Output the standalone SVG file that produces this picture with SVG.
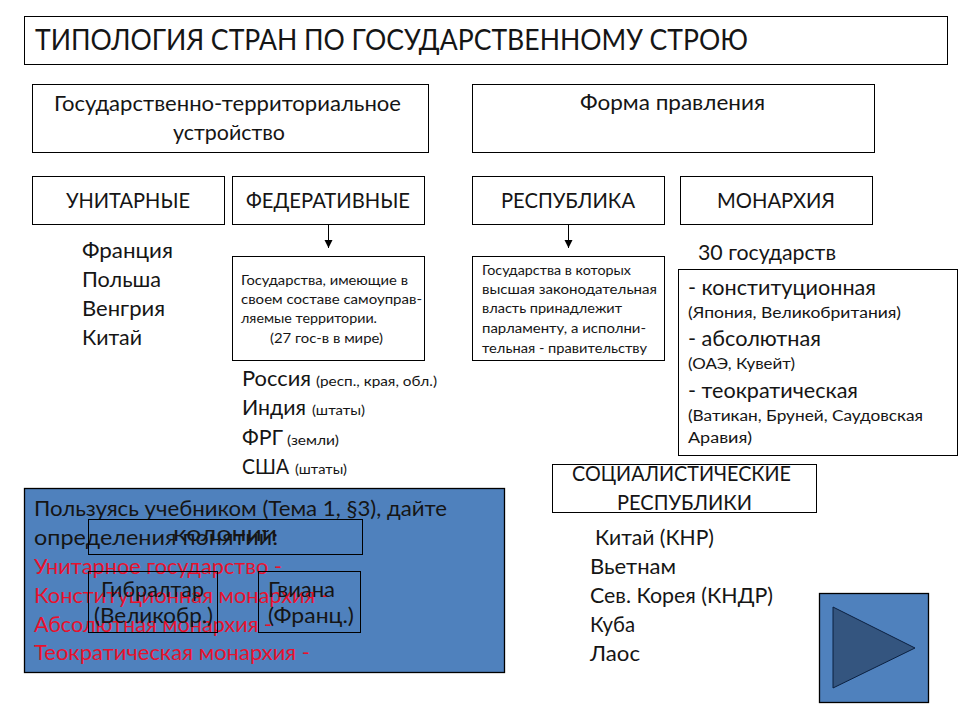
<svg xmlns="http://www.w3.org/2000/svg" width="960" height="720" viewBox="0 0 960 720">
<style>
text{font-family:"Lato","Noto Sans","Liberation Sans",sans-serif;fill:#151515;font-size:21px}
.box{fill:#fff;stroke:#000;stroke-width:1}
.open{fill:none;stroke:#000;stroke-width:1}
.s{font-size:12.5px}
.xs{font-size:12.5px}
.m{font-size:14.5px}
.r{fill:#e8112d}
.c{stroke:#000;stroke-width:1;fill:none}
.blue{fill:#4f81bd;stroke:#000;stroke-width:1.3}
</style>
<defs><marker id="a" markerUnits="userSpaceOnUse" markerWidth="9" markerHeight="9" refX="8" refY="4" orient="auto"><path d="M0 0L8 4L0 8Z" fill="#000"/></marker></defs>
<rect width="960" height="720" fill="#fff"/>
<g id="title"><rect class="box" x="24.5" y="16.5" width="923" height="48"/><text x="35" y="50" style="font-size:28px" textLength="713" lengthAdjust="spacingAndGlyphs">ТИПОЛОГИЯ СТРАН ПО ГОСУДАРСТВЕННОМУ СТРОЮ</text></g>
<g id="connectors"><path class="c" d="M328.5 225V248" marker-end="url(#a)"/><path class="c" d="M568.5 225V248" marker-end="url(#a)"/></g>
<g id="gos-ter"><rect class="box" x="32.5" y="84.5" width="396" height="68"/><text x="54" y="111" textLength="347" lengthAdjust="spacingAndGlyphs">Государственно-территориальное</text><text x="173" y="140" textLength="112" lengthAdjust="spacingAndGlyphs">устройство</text></g>
<g id="forma"><rect class="box" x="472.5" y="84.5" width="402" height="68"/><text x="580" y="110" textLength="185" lengthAdjust="spacingAndGlyphs">Форма правления</text></g>
<g id="unitar"><rect class="box" x="32.5" y="176.5" width="192" height="48"/><text x="66" y="208" textLength="124" lengthAdjust="spacingAndGlyphs">УНИТАРНЫЕ</text></g>
<g id="feder"><rect class="box" x="232.5" y="176.5" width="192" height="48"/><text x="246" y="208" textLength="164" lengthAdjust="spacingAndGlyphs">ФЕДЕРАТИВНЫЕ</text></g>
<g id="resp"><rect class="box" x="472.5" y="176.5" width="192" height="48"/><text x="501" y="208" textLength="134" lengthAdjust="spacingAndGlyphs">РЕСПУБЛИКА</text></g>
<g id="monarh"><rect class="box" x="680.5" y="176.5" width="192" height="48"/><text x="717" y="208" textLength="118" lengthAdjust="spacingAndGlyphs">МОНАРХИЯ</text></g>
<g id="unitar-list"><text x="82" y="258" textLength="91" lengthAdjust="spacingAndGlyphs">Франция</text><text x="82" y="287" textLength="79" lengthAdjust="spacingAndGlyphs">Польша</text><text x="82" y="316" textLength="83" lengthAdjust="spacingAndGlyphs">Венгрия</text><text x="82" y="345" textLength="60" lengthAdjust="spacingAndGlyphs">Китай</text></g>
<g id="feder-def"><rect class="box" x="232.5" y="256.5" width="192" height="104"/>
<text class="s" x="241" y="285" textLength="167" lengthAdjust="spacingAndGlyphs">Государства, имеющие в</text>
<text class="s" x="241" y="304" textLength="181" lengthAdjust="spacingAndGlyphs">своем составе самоуправ-</text>
<text class="s" x="241" y="323" textLength="136" lengthAdjust="spacingAndGlyphs">ляемые территории.</text>
<text class="s" x="270" y="343" textLength="113" lengthAdjust="spacingAndGlyphs">(27 гос-в в мире)</text></g>
<g id="resp-def"><rect class="box" x="472.5" y="256.5" width="192" height="104"/>
<text class="s" x="482" y="275" textLength="149" lengthAdjust="spacingAndGlyphs">Государства в которых</text>
<text class="s" x="482" y="294" textLength="175" lengthAdjust="spacingAndGlyphs">высшая законодательная</text>
<text class="s" x="482" y="313" textLength="140" lengthAdjust="spacingAndGlyphs">власть принадлежит</text>
<text class="s" x="482" y="333" textLength="164" lengthAdjust="spacingAndGlyphs">парламенту, а исполни-</text>
<text class="s" x="482" y="353" textLength="165" lengthAdjust="spacingAndGlyphs">тельная - правительству</text></g>
<g id="feder-list">
<text x="242" y="386" textLength="69" lengthAdjust="spacingAndGlyphs">Россия</text><text class="xs" x="316" y="386" textLength="121" lengthAdjust="spacingAndGlyphs">(респ., края, обл.)</text>
<text x="242" y="415" textLength="64" lengthAdjust="spacingAndGlyphs">Индия</text><text class="xs" x="312" y="415" textLength="53" lengthAdjust="spacingAndGlyphs">(штаты)</text>
<text x="242" y="445" textLength="41" lengthAdjust="spacingAndGlyphs">ФРГ</text><text class="xs" x="287" y="445" textLength="52" lengthAdjust="spacingAndGlyphs">(земли)</text>
<text x="242" y="474" textLength="47" lengthAdjust="spacingAndGlyphs">США</text><text class="xs" x="295" y="474" textLength="52" lengthAdjust="spacingAndGlyphs">(штаты)</text></g>
<g id="monarh-count"><text x="698" y="260" textLength="138" lengthAdjust="spacingAndGlyphs">30 государств</text></g>
<g id="monarh-types"><rect class="box" x="678.5" y="269.5" width="279" height="186"/>
<text x="688" y="295" textLength="188" lengthAdjust="spacingAndGlyphs">- конституционная</text>
<text class="m" x="688" y="318" textLength="213" lengthAdjust="spacingAndGlyphs">(Япония, Великобритания)</text>
<text x="688" y="346" textLength="133" lengthAdjust="spacingAndGlyphs">- абсолютная</text>
<text class="m" x="688" y="369" textLength="107" lengthAdjust="spacingAndGlyphs">(ОАЭ, Кувейт)</text>
<text x="688" y="398" textLength="170" lengthAdjust="spacingAndGlyphs">- теократическая</text>
<text class="m" x="688" y="421" textLength="235" lengthAdjust="spacingAndGlyphs">(Ватикан, Бруней, Саудовская</text>
<text class="m" x="688" y="443" textLength="64" lengthAdjust="spacingAndGlyphs">Аравия)</text></g>
<g id="soc"><rect class="box" x="552.5" y="464.5" width="264" height="48"/><text x="572" y="481" textLength="219" lengthAdjust="spacingAndGlyphs">СОЦИАЛИСТИЧЕСКИЕ</text><text x="617" y="510" textLength="135" lengthAdjust="spacingAndGlyphs">РЕСПУБЛИКИ</text></g>
<g id="soc-list"><text x="595" y="545" textLength="119" lengthAdjust="spacingAndGlyphs">Китай (КНР)</text><text x="590" y="574" textLength="86" lengthAdjust="spacingAndGlyphs">Вьетнам</text><text x="590" y="603" textLength="183" lengthAdjust="spacingAndGlyphs">Сев. Корея (КНДР)</text><text x="590" y="632" textLength="45" lengthAdjust="spacingAndGlyphs">Куба</text><text x="590" y="661" textLength="50" lengthAdjust="spacingAndGlyphs">Лаос</text></g>
<g id="task"><rect class="blue" x="24.5" y="488.5" width="480" height="184"/>
<text x="34" y="516" textLength="413" lengthAdjust="spacingAndGlyphs">Пользуясь учебником (Тема 1, §3), дайте</text>
<text x="34" y="545" textLength="244" lengthAdjust="spacingAndGlyphs">определения понятий:</text>
<text class="r" x="34" y="574" textLength="248" lengthAdjust="spacingAndGlyphs">Унитарное государство -</text>
<text class="r" x="34" y="603" textLength="295" lengthAdjust="spacingAndGlyphs">Конституционная монархия -</text>
<text class="r" x="34" y="632" textLength="238" lengthAdjust="spacingAndGlyphs">Абсолютная монархия -</text>
<text class="r" x="34" y="660" textLength="276" lengthAdjust="spacingAndGlyphs">Теократическая монархия -</text></g>
<g id="colonies"><rect class="open" x="88.5" y="519.5" width="274" height="35"/><text x="173" y="541" textLength="104" lengthAdjust="spacingAndGlyphs">колонии</text></g>
<g id="gibraltar"><rect class="open" x="88.5" y="571.5" width="129" height="61"/><text x="101" y="597" textLength="103" lengthAdjust="spacingAndGlyphs">Гибралтар</text><text x="94" y="623" textLength="119" lengthAdjust="spacingAndGlyphs">(Великобр.)</text></g>
<g id="guiana"><rect class="open" x="258.5" y="571.5" width="102" height="61"/><text x="268" y="597" textLength="67" lengthAdjust="spacingAndGlyphs">Гвиана</text><text x="268" y="623" textLength="86" lengthAdjust="spacingAndGlyphs">(Франц.)</text></g>
<g id="next"><rect class="blue" x="819.5" y="593.5" width="109" height="109"/><path d="M833 607L915 648L833 688Z" fill="#34557f" stroke="#0b2040"/></g>
</svg>
